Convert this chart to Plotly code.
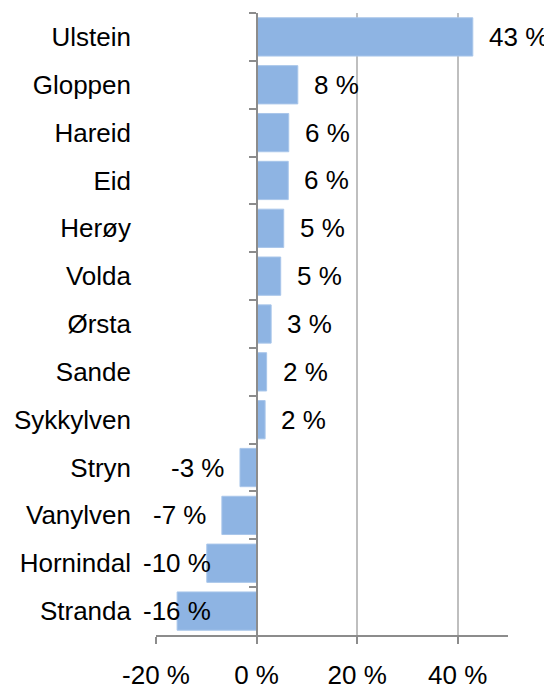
import plotly.graph_objects as go

categories = ["Ulstein", "Gloppen", "Hareid", "Eid", "Herøy", "Volda", "Ørsta",
              "Sande", "Sykkylven", "Stryn", "Vanylven", "Hornindal", "Stranda"]
values = [43.0, 8.2, 6.4, 6.3, 5.4, 4.8, 2.9, 2.0, 1.7, -3.3, -6.9, -9.9, -15.8]
x_ticks = [-20, 0, 20, 40]
x_ticktext = ["-20 %", "0 %", "20 %", "40 %"]
x_min, x_max = -20, 50

FONT = "Liberation Sans, Arial, sans-serif"
FS = 26
BAR = "#8EB4E3"
GRID = "#BFBFBF"
AXIS = "#8C8C8C"

fig = go.Figure()
fig.add_trace(go.Bar(
    x=values, y=categories, orientation="h",
    marker=dict(color=BAR, line=dict(color="#A9C6EA", width=1)),
    width=0.8, yaxis="y", hoverinfo="skip",
))
# invisible trace to carry the zero-positioned category axis
fig.add_trace(go.Scatter(x=[None] * len(categories), y=categories, yaxis="y2",
                         mode="markers", showlegend=False, hoverinfo="skip"))

annotations = []
for c, v in zip(categories, values):
    txt = f"{round(v)} %"
    if v >= 0:
        annotations.append(dict(x=v, y=c, text=txt, xanchor="left", xshift=14,
                                showarrow=False, font=dict(family=FONT, size=FS, color="black")))
    elif v > -8:
        annotations.append(dict(x=v, y=c, text=txt, xanchor="right", xshift=-14,
                                showarrow=False, font=dict(family=FONT, size=FS, color="black")))
    else:
        annotations.append(dict(x=x_min, y=c, text=txt, xanchor="left", xshift=-15,
                                showarrow=False, font=dict(family=FONT, size=FS, color="black")))

n = len(categories)
# page body has an 8px default margin, so the figure is sized/offset to compensate
fig.update_layout(
    width=544, height=678,
    margin=dict(l=148, r=44, t=5, b=51, autoexpand=False),
    paper_bgcolor="white", plot_bgcolor="white",
    showlegend=False,
    font=dict(family=FONT, size=FS, color="black"),
    annotations=annotations,
    xaxis=dict(
        range=[x_min, x_max], tickvals=x_ticks, ticktext=x_ticktext,
        showgrid=True, gridcolor=GRID, gridwidth=1.5,
        zeroline=False, showline=True, linecolor=AXIS, linewidth=1.5,
        ticks="outside", ticklen=7, tickcolor=AXIS, tickwidth=1.5,
        ticklabelstandoff=9, tickfont=dict(family=FONT, size=FS, color="black"),
        domain=[0, 1], automargin=False,
    ),
    yaxis=dict(
        type="category", categoryarray=categories, range=[n - 0.5, -0.5],
        showgrid=False, zeroline=False, showline=False, ticks="",
        ticklabelstandoff=24, tickfont=dict(family=FONT, size=FS, color="black"),
        automargin=False,
    ),
    yaxis2=dict(
        type="category", categoryarray=categories, range=[n - 0.5, -0.5],
        overlaying="y", anchor="free", side="left",
        position=(0 - x_min) / (x_max - x_min),
        showgrid=False, zeroline=False, showline=True, linecolor=AXIS, linewidth=1.5,
        ticks="outside", tickson="boundaries", ticklen=7, tickcolor=AXIS, tickwidth=1.5,
        showticklabels=False, automargin=False,
    ),
    bargap=0.2,
)

fig.write_html("out.html")
